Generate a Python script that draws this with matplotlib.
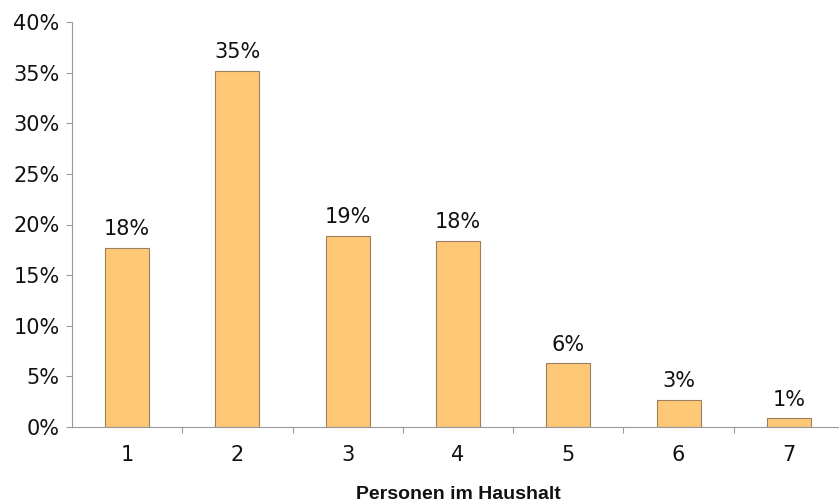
import matplotlib
matplotlib.use("Agg")
import matplotlib.pyplot as plt
from matplotlib.ticker import FuncFormatter, FixedLocator, MultipleLocator

categories = ["1", "2", "3", "4", "5", "6", "7"]
values = [17.7, 35.2, 18.9, 18.4, 6.3, 2.7, 0.86]
labels = ["18%", "35%", "19%", "18%", "6%", "3%", "1%"]
xlabel = "Personen im Haushalt"

plt.rcParams['font.family'] = ['DejaVu Sans']

W, H = 839, 503
fig = plt.figure(figsize=(W / 100, H / 100), dpi=100)
left, right, top, bottom = 72, 844, 22, 427
ax = fig.add_axes([left / W, (H - bottom) / H, (right - left) / W, (bottom - top) / H])

x = list(range(len(categories)))
ax.bar(x, values, width=0.40, color="#FFC877", edgecolor="#9a8060", linewidth=0.8, zorder=2)
for xi, v, lab in zip(x, values, labels):
    ax.annotate(lab, (xi, v), xytext=(0, 6), textcoords="offset points",
                ha="center", va="bottom", fontsize=15, color="#111111")

ax.set_xlim(-0.5, len(categories) - 0.5)
ax.set_ylim(0, 40)
ax.yaxis.set_major_locator(MultipleLocator(5))
ax.yaxis.set_major_formatter(FuncFormatter(lambda v, p: f"{v:.0f}%"))
ax.set_xticks(x)
ax.set_xticklabels(categories)
ax.xaxis.set_minor_locator(FixedLocator([i + 0.5 for i in range(len(categories) - 1)]))
ax.tick_params(axis="x", which="major", length=0, pad=13, labelsize=15, labelcolor="#111111")
ax.tick_params(axis="x", which="minor", length=4, color="#999999", width=0.8)
ax.tick_params(axis="y", length=4, color="#999999", width=0.8, labelsize=15, pad=5, labelcolor="#111111")

for s in ["top", "right"]:
    ax.spines[s].set_visible(False)
for s in ["left", "bottom"]:
    ax.spines[s].set_color("#999999")
    ax.spines[s].set_linewidth(0.8)

ax.set_xlabel(xlabel, fontsize=14, fontweight="bold", labelpad=15,
              family=['Liberation Sans', 'DejaVu Sans'], color="#111111")

fig.savefig("out.png", dpi=100)
